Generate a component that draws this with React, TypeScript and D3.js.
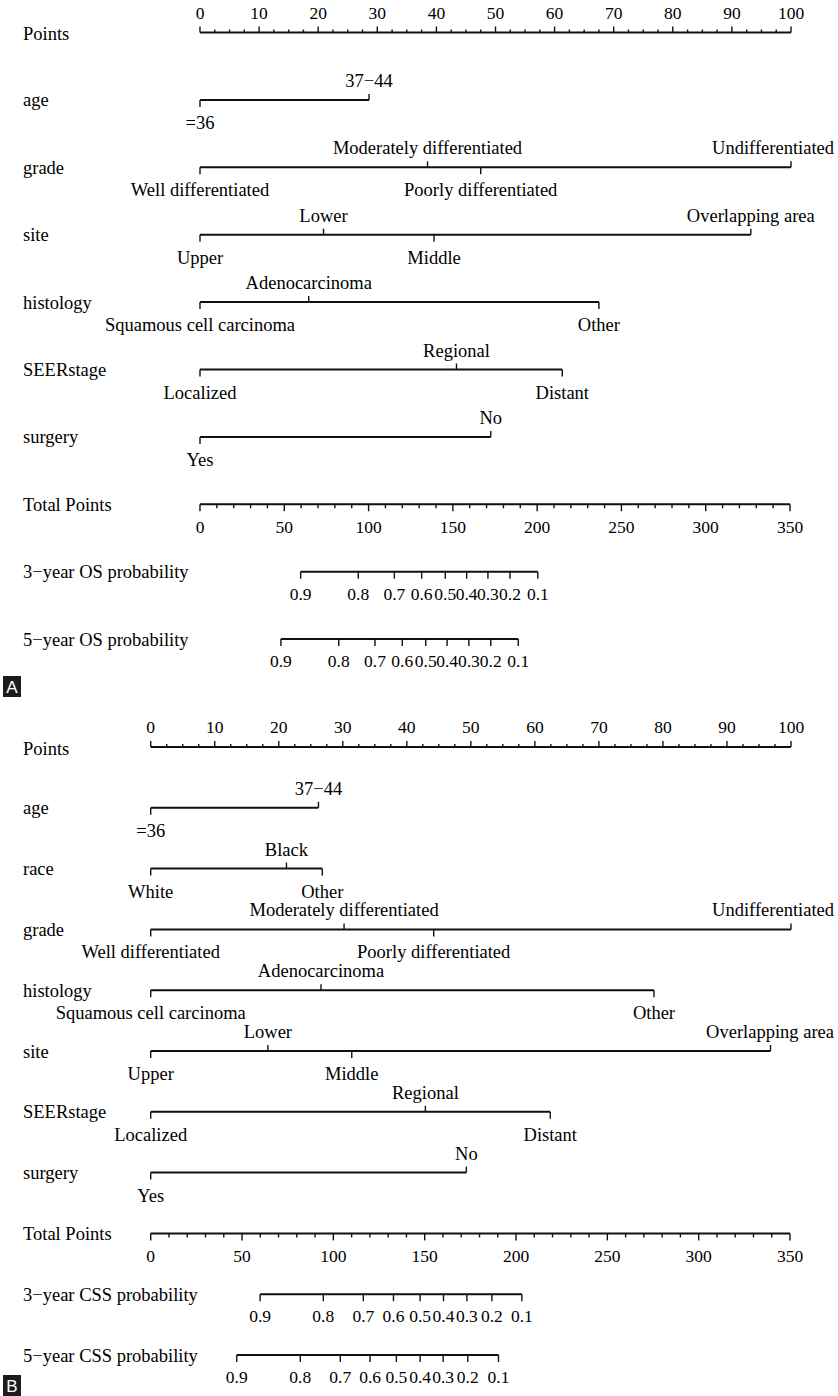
import React from "react";
import * as d3 from "d3";

const W = 838;
const H = 1396;
const FONT = '"Liberation Serif", "Times New Roman", serif';
const FS = 18.5; // word labels
const FSN = 17.5; // axis numbers

// ---------- Shared tick labels ----------
const pointsTicks = [0, 10, 20, 30, 40, 50, 60, 70, 80, 90, 100];
const totalTicks = [0, 50, 100, 150, 200, 250, 300, 350];
const probLabels = ["0.9", "0.8", "0.7", "0.6", "0.5", "0.4", "0.3", "0.2", "0.1"];

// ---------- Panel A data ----------
const aAgeLevels = ["=36", "37−44"];
const aAgePts = [0, 28.6];
const aGradeLevels = ["Well differentiated", "Moderately differentiated", "Poorly differentiated", "Undifferentiated"];
const aGradePts = [0, 38.5, 47.5, 100];
const aSiteLevels = ["Upper", "Lower", "Middle", "Overlapping area"];
const aSitePts = [0, 20.9, 39.6, 93.2];
const aHistLevels = ["Squamous cell carcinoma", "Adenocarcinoma", "Other"];
const aHistPts = [0, 18.4, 67.5];
const aStageLevels = ["Localized", "Regional", "Distant"];
const aStagePts = [0, 43.4, 61.3];
const aSurgLevels = ["Yes", "No"];
const aSurgPts = [0, 49.2];
const aOS3 = [59.7, 93.9, 115.3, 131.5, 145.5, 158.2, 170.8, 183.9, 200.4];
const aOS5 = [48.0, 82.3, 103.8, 120.0, 133.9, 146.6, 159.5, 172.5, 188.8];

// ---------- Panel B data ----------
const bAgeLevels = ["=36", "37−44"];
const bAgePts = [0, 26.2];
const bRaceLevels = ["White", "Black", "Other"];
const bRacePts = [0, 21.2, 26.8];
const bGradeLevels = ["Well differentiated", "Moderately differentiated", "Poorly differentiated", "Undifferentiated"];
const bGradePts = [0, 30.2, 44.2, 100];
const bHistLevels = ["Squamous cell carcinoma", "Adenocarcinoma", "Other"];
const bHistPts = [0, 26.6, 78.6];
const bSiteLevels = ["Upper", "Lower", "Middle", "Overlapping area"];
const bSitePts = [0, 18.3, 31.4, 96.8];
const bStageLevels = ["Localized", "Regional", "Distant"];
const bStagePts = [0, 42.9, 62.4];
const bSurgLevels = ["Yes", "No"];
const bSurgPts = [0, 49.3];
const bCSS3 = [59.9, 94.5, 116.4, 132.9, 147.5, 160.3, 173.1, 186.8, 203.2];
const bCSS5 = [47.1, 81.9, 103.8, 120.1, 134.5, 147.5, 160.1, 173.6, 190.4];

let ctx: CanvasRenderingContext2D | null = null;
function textWidth(s: string, size: number): number {
  if (!ctx) {
    const c = document.createElement("canvas");
    ctx = c.getContext("2d");
  }
  if (!ctx) return s.length * size * 0.45;
  ctx.font = `${size}px "Liberation Serif"`;
  return ctx.measureText(s).width;
}

const RIGHT_LIMIT = 834;

type VarDef = { name: string; levels: string[]; pts: number[] };
type ProbDef = { name: string; tp: number[] };

function Panel({
  top,
  x0,
  step,
  vars,
  probs,
  letter,
  letterY,
}: {
  top: number;
  x0: number;
  step: number;
  vars: VarDef[];
  probs: ProbDef[];
  letter: string;
  letterY: number;
}) {
  const xP = d3.scaleLinear().domain([0, 100]).range([x0, 791]);
  const xT = d3.scaleLinear().domain([0, 350]).range([x0, 790]);
  const labelX = 23;
  const stroke = "#111";
  const els: React.ReactNode[] = [];
  let row = 0;
  const rowY = (i: number) => top + i * step;

  // Points axis
  {
    const y = rowY(row++);
    els.push(
      <text key="pl" x={labelX} y={y + 7.5} fontSize={FS}>
        Points
      </text>
    );
    els.push(<line key="pa" x1={xP(0)} x2={xP(100)} y1={y} y2={y} stroke={stroke} strokeWidth={2} />);
    d3.range(0, 100.01, 2.5).forEach((v) => {
      const major = Math.abs(v % 10) < 1e-6;
      els.push(
        <line
          key={"pt" + v}
          x1={xP(v)}
          x2={xP(v)}
          y1={y}
          y2={y - (major ? 6 : 3)}
          stroke={stroke}
          strokeWidth={1.4}
        />
      );
    });
    pointsTicks.forEach((v) => {
      els.push(
        <text key={"ptl" + v} x={xP(v)} y={y - 14} fontSize={FSN} textAnchor="middle">
          {v}
        </text>
      );
    });
  }

  vars.forEach((vd, vi) => {
    const y = rowY(row++);
    els.push(
      <text key={"vn" + vi} x={labelX} y={y + 6.5} fontSize={FS}>
        {vd.name}
      </text>
    );
    const maxPt = d3.max(vd.pts) as number;
    els.push(
      <line key={"vl" + vi} x1={xP(0)} x2={xP(maxPt)} y1={y} y2={y} stroke={stroke} strokeWidth={2} />
    );
    vd.levels.forEach((lev, li) => {
      const above = li % 2 === 1;
      const x = xP(vd.pts[li]);
      els.push(
        <line
          key={"vt" + vi + "_" + li}
          x1={x}
          x2={x}
          y1={y}
          y2={above ? y - 6 : y + 7}
          stroke={stroke}
          strokeWidth={1.4}
        />
      );
      const w = textWidth(lev, FS);
      let tx = x;
      let anchor: "middle" | "end" = "middle";
      if (x + w / 2 > RIGHT_LIMIT) {
        tx = RIGHT_LIMIT;
        anchor = "end";
      }
      els.push(
        <text
          key={"vtl" + vi + "_" + li}
          x={tx}
          y={above ? y - 13 : y + 29}
          fontSize={FS}
          textAnchor={anchor}
        >
          {lev}
        </text>
      );
    });
  });

  // Total points axis
  {
    const y = rowY(row++);
    els.push(
      <text key="tl" x={labelX} y={y + 6.5} fontSize={FS}>
        Total Points
      </text>
    );
    els.push(<line key="ta" x1={xT(0)} x2={xT(350)} y1={y} y2={y} stroke={stroke} strokeWidth={2} />);
    d3.range(0, 350.01, 10).forEach((v) => {
      const major = v % 50 === 0;
      els.push(
        <line
          key={"tt" + v}
          x1={xT(v)}
          x2={xT(v)}
          y1={y}
          y2={y + (major ? 7 : 4)}
          stroke={stroke}
          strokeWidth={1.4}
        />
      );
    });
    totalTicks.forEach((v) => {
      els.push(
        <text key={"ttl" + v} x={xT(v)} y={y + 29} fontSize={FSN} textAnchor="middle">
          {v}
        </text>
      );
    });
  }

  probs.forEach((pd, pi) => {
    const y = rowY(row++);
    els.push(
      <text key={"prn" + pi} x={labelX} y={y + 6.5} fontSize={FS}>
        {pd.name}
      </text>
    );
    const lo = d3.min(pd.tp) as number;
    const hi = d3.max(pd.tp) as number;
    els.push(<line key={"prl" + pi} x1={xT(lo)} x2={xT(hi)} y1={y} y2={y} stroke={stroke} strokeWidth={2} />);
    pd.tp.forEach((t, ti) => {
      els.push(
        <line
          key={"prt" + pi + "_" + ti}
          x1={xT(t)}
          x2={xT(t)}
          y1={y}
          y2={y + 7}
          stroke={stroke}
          strokeWidth={1.4}
        />
      );
      els.push(
        <text key={"prtl" + pi + "_" + ti} x={xT(t)} y={y + 28} fontSize={FSN} textAnchor="middle">
          {probLabels[ti]}
        </text>
      );
    });
  });

  return (
    <g fontFamily={FONT} fill="#000">
      {els}
      <rect x={3} y={letterY} width={18} height={21} fill="#1c1c1c" />
      <text
        x={12}
        y={letterY + 17}
        fontSize={17}
        fill="#fff"
        textAnchor="middle"
        fontFamily='"Liberation Sans", Arial, sans-serif'
      >
        {letter}
      </text>
    </g>
  );
}

export default function App() {
  const varsA: VarDef[] = [
    { name: "age", levels: aAgeLevels, pts: aAgePts },
    { name: "grade", levels: aGradeLevels, pts: aGradePts },
    { name: "site", levels: aSiteLevels, pts: aSitePts },
    { name: "histology", levels: aHistLevels, pts: aHistPts },
    { name: "SEERstage", levels: aStageLevels, pts: aStagePts },
    { name: "surgery", levels: aSurgLevels, pts: aSurgPts },
  ];
  const probsA: ProbDef[] = [
    { name: "3−year OS probability", tp: aOS3 },
    { name: "5−year OS probability", tp: aOS5 },
  ];
  const varsB: VarDef[] = [
    { name: "age", levels: bAgeLevels, pts: bAgePts },
    { name: "race", levels: bRaceLevels, pts: bRacePts },
    { name: "grade", levels: bGradeLevels, pts: bGradePts },
    { name: "histology", levels: bHistLevels, pts: bHistPts },
    { name: "site", levels: bSiteLevels, pts: bSitePts },
    { name: "SEERstage", levels: bStageLevels, pts: bStagePts },
    { name: "surgery", levels: bSurgLevels, pts: bSurgPts },
  ];
  const probsB: ProbDef[] = [
    { name: "3−year CSS probability", tp: bCSS3 },
    { name: "5−year CSS probability", tp: bCSS5 },
  ];
  return (
    <svg
      width={W}
      height={H}
      viewBox={`0 0 ${W} ${H}`}
      style={{ position: "absolute", left: 0, top: 0, background: "#fff" }}
    >
      <rect x={0} y={0} width={W} height={H} fill="#fff" />
      <Panel top={32.5} x0={200} step={67.4} vars={varsA} probs={probsA} letter="A" letterY={676} />
      <Panel top={747} x0={150.7} step={60.8} vars={varsB} probs={probsB} letter="B" letterY={1375} />
    </svg>
  );
}
